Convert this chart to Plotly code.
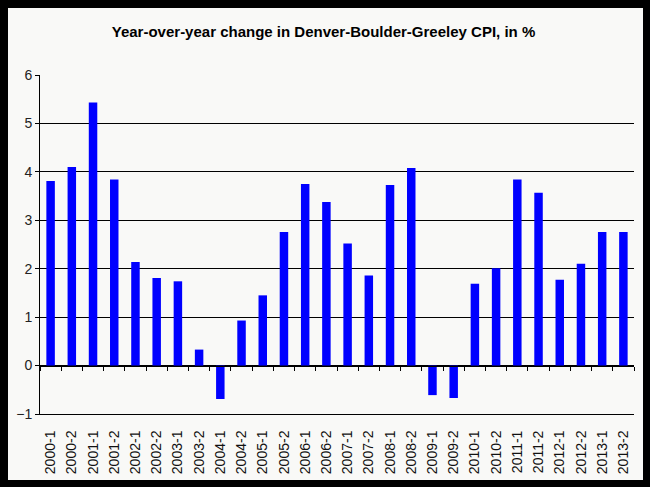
import plotly.graph_objects as go

categories = ["2000-1","2000-2","2001-1","2001-2","2002-1","2002-2","2003-1","2003-2",
              "2004-1","2004-2","2005-1","2005-2","2006-1","2006-2","2007-1","2007-2",
              "2008-1","2008-2","2009-1","2009-2","2010-1","2010-2","2011-1","2011-2",
              "2012-1","2012-2","2013-1","2013-2"]
values = [3.81, 4.10, 5.43, 3.84, 2.14, 1.81, 1.74, 0.33,
          -0.69, 0.93, 1.45, 2.76, 3.75, 3.38, 2.52, 1.86,
          3.73, 4.08, -0.61, -0.67, 1.69, 2.01, 3.84, 3.57,
          1.77, 2.10, 2.76, 2.76]
title_text = "Year-over-year change in Denver-Boulder-Greeley CPI, in %"
y_min, y_max = -1, 6

W, H = 650, 487
ml, mr, mt, mb = 40, 16, 75, 73
ph = H - mt - mb
pw = W - ml - mr
bg = "#f9f9f7"
font = "Liberation Sans, Arial, sans-serif"

idx = list(range(len(categories)))
zero_pos = (0 - y_min) / (y_max - y_min)

fig = go.Figure()
fig.add_trace(go.Bar(x=idx, y=values, marker=dict(color="#0000ff", line=dict(width=0)),
                     xaxis="x", yaxis="y", showlegend=False))

fig.update_layout(
    width=W, height=H,
    margin=dict(l=ml, r=mr, t=mt, b=mb),
    paper_bgcolor="black",
    plot_bgcolor=bg,
    bargap=0.6,
    title=dict(text="<b>" + title_text + "</b>", x=(112 + 535) / 2 / W, xanchor="center",
               y=1 - 32 / H, yanchor="middle",
               font=dict(family=font, size=15, color="black")),
    xaxis=dict(range=[-0.5, len(categories) - 0.5], anchor="free", position=zero_pos,
               showticklabels=False, ticks="outside", ticklen=4, tickcolor="black",
               tickvals=[i + 0.5 for i in idx[:-1]] + [-0.5, len(categories) - 0.5],
               showgrid=False, showline=True, linecolor="black", linewidth=1,
               zeroline=False),
    xaxis2=dict(range=[-0.5, len(categories) - 0.5], overlaying="x", anchor="y", side="bottom",
                tickvals=idx, ticktext=categories, tickangle=-90,
                ticks="outside", ticklen=10, tickcolor="rgba(0,0,0,0)",
                tickfont=dict(family=font, size=14, color="#111"),
                showgrid=False, showline=True, linecolor="black", linewidth=1,
                zeroline=False),
    yaxis=dict(range=[y_min, y_max], dtick=1, showgrid=True, gridcolor="black", gridwidth=1,
               showline=True, linecolor="black", linewidth=1, ticks="outside", ticklen=4,
               tickcolor="black", zeroline=False,
               tickfont=dict(family=font, size=14, color="#222")),
)

fig.add_shape(type="rect", xref="paper", yref="paper",
              x0=(8 - ml) / pw, x1=(643 - ml) / pw,
              y0=(H - mb - 480) / ph, y1=(H - mb - 8) / ph,
              fillcolor=bg, line=dict(width=0), layer="below")

# invisible trace so xaxis2 renders
fig.add_trace(go.Scatter(x=idx, y=[0] * len(idx), xaxis="x2", yaxis="y", mode="markers",
                         marker=dict(opacity=0), hoverinfo="skip", showlegend=False))

fig.write_html("out.html", config={"displayModeBar": False},
               post_script="document.body.style.margin='0';document.body.style.background='black';document.body.style.overflow='hidden';")
